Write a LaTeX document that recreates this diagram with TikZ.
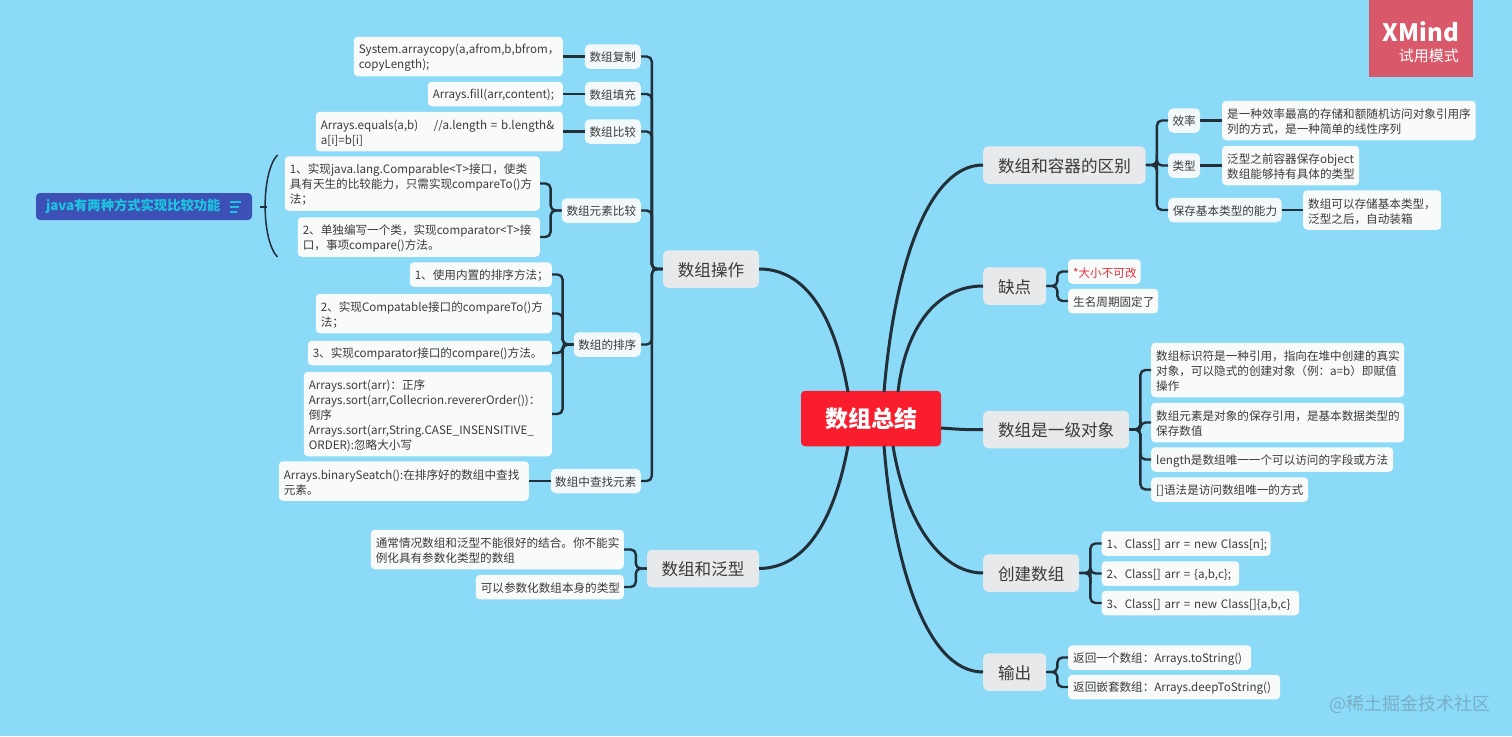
\documentclass[tikz,border=0pt]{standalone}
\usepackage{fontspec}
\setmainfont{Noto Sans CJK SC}
\definecolor{skybg}{HTML}{8BDBF8}
\definecolor{linkcol}{HTML}{222E38}
\definecolor{maingrey}{HTML}{E7E9EB}
\definecolor{leafwhite}{HTML}{F9FAFA}
\definecolor{subwhite}{HTML}{F3F9FB}
\definecolor{rootred}{HTML}{F91D2D}
\definecolor{textgrey}{HTML}{3A3A3A}
\definecolor{noteblue}{HTML}{3D50B6}
\definecolor{notecyan}{HTML}{1CC6DE}
\definecolor{trialred}{HTML}{D9596A}
\definecolor{alertred}{HTML}{E6323C}
\definecolor{markgrey}{HTML}{7AAEC6}
\tikzset{
  rootbox/.style={fill=rootred, text=white, rounded corners=4pt, font=\fontsize{23}{28}\selectfont\bfseries, minimum width=140pt, minimum height=55.5pt, inner sep=0pt},
  mainbox/.style={fill=maingrey, text=textgrey, rounded corners=5pt, font=\fontsize{16.6}{20}\selectfont, minimum width=#1, minimum height=37.5pt, inner sep=0pt, text height=16pt, text depth=1.4pt},
  subbox/.style={fill=subwhite, text=textgrey, rounded corners=5pt, font=\fontsize{11.6}{15}\selectfont, minimum width=#1, minimum height=24.5pt, inner sep=0pt, text height=11.5pt, text depth=1.5pt},
  leafbox/.style 2 args={fill=leafwhite, text=textgrey, rounded corners=4pt, font=\fontsize{11.6}{15}\selectfont, align=left, text width=#1, execute at begin node={\rule{0pt}{12.5pt}}, minimum height=#2, inner xsep=5pt, inner ysep=0pt},
  link/.style={draw=linkcol, line width=2.4pt, rounded corners=5pt},
  bigcurve/.style={draw=linkcol, line width=3pt}
}
\begin{document}
\begin{tikzpicture}[x=1pt,y=-1pt]
\fill[skybg] (0,0) rectangle (1512,736);
\useasboundingbox (0,0) rectangle (1512,736);

\node[rootbox] (root) at (871,418.5) {数组总结};
\coordinate (rootNW) at (848,392);
\coordinate (rootNA) at (884,392);
\coordinate (rootNB) at (898,392);
\coordinate (rootSW) at (848,446);
\coordinate (rootSA) at (884,446);
\coordinate (rootSB) at (893,446);
\coordinate (rootE) at (941,428);

\node[mainbox=96pt] (opMain) at (711,269) {数组操作};
\node[mainbox=112pt] (genMain) at (703,568.5) {数组和泛型};
\node[mainbox=162.5pt, anchor=west] (diffMain) at (983,165) {数组和容器的区别};
\node[mainbox=63pt, anchor=west] (flawMain) at (983,286) {缺点};
\node[mainbox=146pt, anchor=west] (firstMain) at (983,429.5) {数组是一级对象};
\node[mainbox=96pt, anchor=west] (newMain) at (983,573) {创建数组};
\node[mainbox=63pt, anchor=west] (outMain) at (983,672) {输出};

\node[subbox=56pt, anchor=east] (copySub) at (641,56.5) {数组复制};
\node[subbox=56pt, anchor=east] (fillSub) at (641,94) {数组填充};
\node[subbox=56pt, anchor=east] (eqSub) at (641,131.5) {数组比较};
\node[subbox=79pt, anchor=east] (cmpSub) at (641,210.5) {数组元素比较};
\node[subbox=67pt, anchor=east] (sortSub) at (641,344.5) {数组的排序};
\node[subbox=90pt, anchor=east] (findSub) at (641,481) {数组中查找元素};

\node[leafbox={199pt}{39.5pt}, anchor=east] (copyLeaf) at (563,56.5) {System.arraycopy(a,afrom,b,bfrom，\\copyLength);};
\node[leafbox={125pt}{24.5pt}, anchor=east] (fillLeaf) at (563,94) {Arrays.fill(arr,content);};
\node[leafbox={237pt}{39.5pt}, anchor=east] (eqLeaf) at (563,131.5) {Arrays.equals(a,b)\ \ \ \ //a.length = b.length\&\\a[i]=b[i]};
\node[leafbox={245pt}{54.5pt}, anchor=east] (cmpLeafA) at (540,183.5) {1、实现java.lang.Comparable<T>接口，使类\\具有天生的比较能力，只需实现compareTo()方\\法；};
\node[leafbox={232pt}{39.5pt}, anchor=east] (cmpLeafB) at (540,237) {2、单独编写一个类，实现comparator<T>接\\口，事项compare()方法。};
\node[leafbox={132pt}{24.5pt}, anchor=east] (sortLeafA) at (552,274.5) {1、使用内置的排序方法；};
\node[leafbox={226pt}{39.5pt}, anchor=east] (sortLeafB) at (552,313.5) {2、实现Compatable接口的compareTo()方\\法；};
\node[leafbox={234pt}{24.5pt}, anchor=east] (sortLeafC) at (552,353) {3、实现comparator接口的compare()方法。};
\node[leafbox={238pt}{84.5pt}, anchor=east] (sortLeafD) at (552,414) {Arrays.sort(arr)：正序\\Arrays.sort(arr,Collecrion.revererOrder())：\\倒序\\Arrays.sort(arr,String.CASE\_INSENSITIVE\_\\ORDER):忽略大小写};
\node[leafbox={240pt}{39.5pt}, anchor=east] (findLeaf) at (529,481) {Arrays.binarySeatch():在排序好的数组中查找\\元素。};
\node[leafbox={243pt}{39.5pt}, anchor=east] (genLeafA) at (624,549.5) {通常情况数组和泛型不能很好的结合。你不能实\\例化具有参数化类型的数组};
\node[leafbox={138pt}{24.5pt}, anchor=east] (genLeafB) at (624,587) {可以参数化数组本身的类型};

\node[subbox=32pt, anchor=west] (rateSub) at (1168,120.5) {效率};
\node[subbox=32pt, anchor=west] (typeSub) at (1168,165.5) {类型};
\node[subbox=113.5pt, anchor=west] (baseSub) at (1168,210) {保存基本类型的能力};

\node[leafbox={243.5pt}{39.5pt}, anchor=west] (rateLeaf) at (1222,120.5) {是一种效率最高的存储和额随机访问对象引用序\\列的方式，是一种简单的线性序列};
\node[leafbox={127pt}{39.5pt}, anchor=west] (typeLeaf) at (1222,165.5) {泛型之前容器保存object\\数组能够持有具体的类型};
\node[leafbox={128pt}{39.5pt}, anchor=west] (baseLeaf) at (1303,210) {数组可以存储基本类型，\\泛型之后，自动装箱};
\node[leafbox={62.5pt}{24.5pt}, anchor=west, text=alertred] (flawLeafA) at (1068,271.5) {*大小不可改};
\node[leafbox={80pt}{24.5pt}, anchor=west] (flawLeafB) at (1068,301) {生名周期固定了};
\node[leafbox={243pt}{54.5pt}, anchor=west] (firstLeafA) at (1151,370) {数组标识符是一种引用，指向在堆中创建的真实\\对象，可以隐式的创建对象（例：a=b）即赋值\\操作};
\node[leafbox={243pt}{39.5pt}, anchor=west] (firstLeafB) at (1151,422.5) {数组元素是对象的保存引用，是基本数据类型的\\保存数值};
\node[leafbox={232pt}{24.5pt}, anchor=west] (firstLeafC) at (1151,459.5) {length是数组唯一一个可以访问的字段或方法};
\node[leafbox={147pt}{24.5pt}, anchor=west] (firstLeafD) at (1151,489.5) {[]语法是访问数组唯一的方式};
\node[leafbox={159pt}{24.5pt}, anchor=west] (newLeafA) at (1101.5,543.5) {\mbox{1、Class[] arr = new Class[n];}};
\node[leafbox={127.5pt}{24.5pt}, anchor=west] (newLeafB) at (1101.5,573.5) {\mbox{2、Class[] arr = \{a,b,c\};}};
\node[leafbox={187.5pt}{24.5pt}, anchor=west] (newLeafC) at (1101.5,603) {\mbox{3、Class[] arr = new Class[]\{a,b,c\}}};
\node[leafbox={173pt}{24.5pt}, anchor=west] (outLeafA) at (1068,657.5) {返回一个数组：Arrays.toString()};
\node[leafbox={202pt}{24.5pt}, anchor=west] (outLeafB) at (1068,687) {返回嵌套数组：Arrays.deepToString()};

\draw[bigcurve] (opMain.east) .. controls (815,269) and (838,335) .. (rootNW);
\draw[bigcurve] (genMain.east) .. controls (815,568) and (838,500) .. (rootSW);
\draw[bigcurve] (diffMain.west) .. controls (930,165) and (895,260) .. (rootNA);
\draw[bigcurve] (flawMain.west) .. controls (935,286) and (905,330) .. (rootNB);
\draw[bigcurve] (firstMain.west) .. controls (965,430) and (955,429) .. (rootE);
\draw[bigcurve] (newMain.west) .. controls (940,573) and (905,520) .. (rootSB);
\draw[bigcurve] (outMain.west) .. controls (925,672) and (893,560) .. (rootSA);

\foreach \subnode in {copySub,fillSub,eqSub,cmpSub,sortSub,findSub}
  \draw[link] (opMain.west) -- ++(-11,0) |- (\subnode.east);
\foreach \leaf in {genLeafA,genLeafB}
  \draw[link] (genMain.west) -- ++(-11,0) |- (\leaf.east);
\foreach \leaf in {cmpLeafA,cmpLeafB}
  \draw[link] (cmpSub.west) -- ++(-11,0) |- (\leaf.east);
\foreach \leaf in {sortLeafA,sortLeafB,sortLeafC,sortLeafD}
  \draw[link] (sortSub.west) -- ++(-11,0) |- (\leaf.east);
\draw[link] (copySub.west) -- (copyLeaf.east);
\draw[link] (fillSub.west) -- (fillLeaf.east);
\draw[link] (eqSub.west) -- (eqLeaf.east);
\draw[link] (findSub.west) -- (findLeaf.east);

\foreach \subnode in {rateSub,typeSub,baseSub}
  \draw[link] (diffMain.east) -- ++(11,0) |- (\subnode.west);
\foreach \leaf in {flawLeafA,flawLeafB}
  \draw[link] (flawMain.east) -- ++(11,0) |- (\leaf.west);
\foreach \leaf in {firstLeafA,firstLeafB,firstLeafC,firstLeafD}
  \draw[link] (firstMain.east) -- ++(11,0) |- (\leaf.west);
\foreach \leaf in {newLeafA,newLeafB,newLeafC}
  \draw[link] (newMain.east) -- ++(11,0) |- (\leaf.west);
\foreach \leaf in {outLeafA,outLeafB}
  \draw[link] (outMain.east) -- ++(11,0) |- (\leaf.west);
\draw[link] (rateSub.east) -- (rateLeaf.west);
\draw[link] (typeSub.east) -- (typeLeaf.west);
\draw[link] (baseSub.east) -- (baseLeaf.west);

\node[fill=noteblue, text=notecyan, rounded corners=4pt, font=\fontsize{13.3}{16}\selectfont\bfseries, minimum width=216pt, minimum height=27pt, inner sep=0pt, text width=196pt, align=left] (noteNode) at (144,206.5) {java有两种方式实现比较功能};
\foreach \y/\w in {202/11,207/9,212/7}
  \draw[notecyan, line width=1.3pt] (230,\y) -- ++(\w,0);
\coordinate (braceTop) at (277.5,155);
\coordinate (braceBot) at (277.5,257);
\coordinate (braceMid) at (267,207);
\coordinate (braceTick) at (260,207);
\draw[linkcol, line width=1.5pt] (braceTop) .. controls (261,172) and (261,240) .. (braceBot);
\draw[linkcol, line width=1.5pt] (braceTick) -- (braceMid);

\fill[trialred] (1369,0) rectangle (1473,77);
\node[text=white, font=\fontsize{24}{28}\selectfont\bfseries, anchor=east, inner sep=0pt] (trialLogo) at (1459,32) {XMind};
\node[text=white, font=\fontsize{15}{18}\selectfont, anchor=east, inner sep=0pt] (trialMode) at (1459,56) {试用模式};
\node[text=markgrey, font=\fontsize{18}{22}\selectfont, anchor=east, inner sep=0pt] (markText) at (1491,704) {@稀土掘金技术社区};
\end{tikzpicture}
\end{document}
